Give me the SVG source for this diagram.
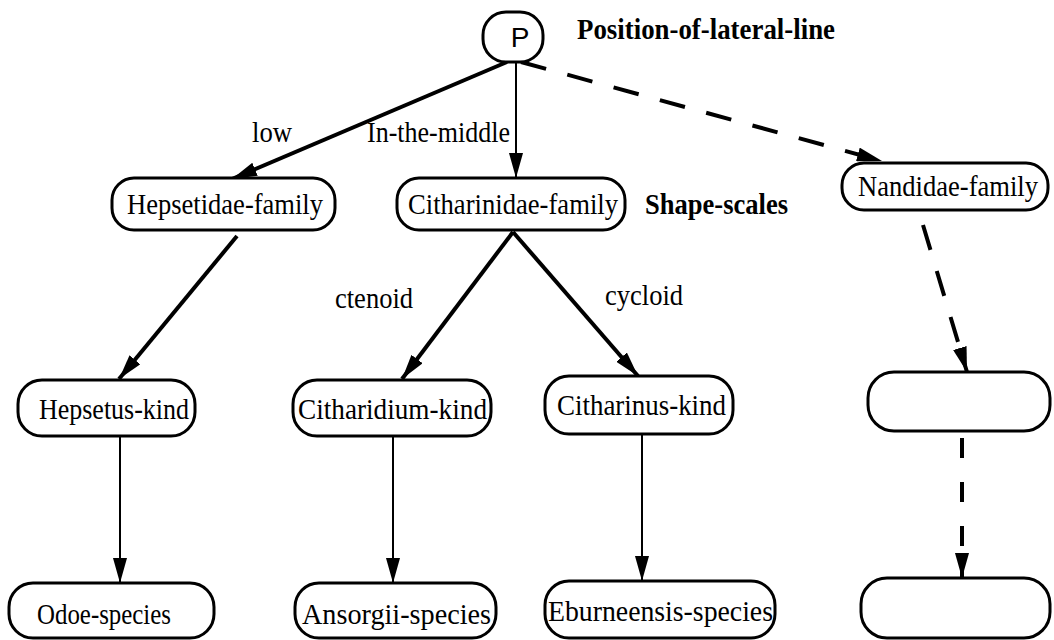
<svg xmlns="http://www.w3.org/2000/svg" width="1054" height="640" viewBox="0 0 1054 640">
<style>
.box{fill:#fff;stroke:#000;stroke-width:3}
.t{font-family:"Liberation Serif","Times New Roman",serif;font-size:29px;fill:#000}
.b{font-weight:bold}
.e{fill:none;stroke:#000}
.thick{stroke-width:4}
.thin{stroke-width:2}
.dash{stroke-dasharray:26 22}
</style>
<defs>
<marker id="ah" markerUnits="userSpaceOnUse" viewBox="0 0 25 14" markerWidth="25" markerHeight="14" refX="25" refY="7" orient="auto">
<path d="M0,0 L25,7 L0,14 z" fill="#000"/>
</marker>
</defs>
<rect width="1054" height="640" fill="#fff"/>
<g id="connectors">
<path class="e thick" d="M507,62 L232,179" marker-end="url(#ah)"/>
<path class="e thin" d="M516,62 L516,178" marker-end="url(#ah)"/>
<path class="e thick dash" d="M521,62 L882,161" marker-end="url(#ah)"/>
<path class="e thick" d="M513,232 L402,379" marker-end="url(#ah)"/>
<path class="e thick" d="M513,232 L638,376" marker-end="url(#ah)"/>
<path class="e thick" d="M237,236 L119,379" marker-end="url(#ah)"/>
<path class="e thin" d="M120,437 L120,583" marker-end="url(#ah)"/>
<path class="e thin" d="M393,437 L393,583" marker-end="url(#ah)"/>
<path class="e thin" d="M642,435 L642,581" marker-end="url(#ah)"/>
<path class="e thick dash" d="M923,225 L967,372" marker-end="url(#ah)"/>
<path class="e thick" style="stroke-dasharray:20 24" d="M962,438 L962,578" marker-end="url(#ah)"/>
</g>
<g id="labels">
<text class="t" x="252" y="142" textLength="40" lengthAdjust="spacingAndGlyphs">low</text>
<text class="t" x="367" y="142" textLength="143" lengthAdjust="spacingAndGlyphs">In-the-middle</text>
<text class="t" x="335" y="308" textLength="78" lengthAdjust="spacingAndGlyphs">ctenoid</text>
<text class="t" x="605" y="305" textLength="78" lengthAdjust="spacingAndGlyphs">cycloid</text>
<text class="t b" x="577" y="39" textLength="258" lengthAdjust="spacingAndGlyphs">Position-of-lateral-line</text>
<text class="t b" x="645" y="214" textLength="143" lengthAdjust="spacingAndGlyphs">Shape-scales</text>
</g>
<g id="node-P">
<rect class="box" x="483" y="12" width="60" height="50" rx="23"/>
<text x="520" y="47" text-anchor="middle" style="font-family:'Liberation Sans',Arial,sans-serif;font-size:28px">P</text>
</g>
<g id="node-hepsetidae">
<rect class="box" x="112" y="178" width="223" height="52" rx="22"/>
<text class="t" x="127" y="214" textLength="196" lengthAdjust="spacingAndGlyphs">Hepsetidae-family</text>
</g>
<g id="node-citharinidae">
<rect class="box" x="397" y="178" width="228" height="52" rx="22"/>
<text class="t" x="408" y="214" textLength="210" lengthAdjust="spacingAndGlyphs">Citharinidae-family</text>
</g>
<g id="node-nandidae">
<rect class="box" x="842" y="163" width="206" height="47" rx="22"/>
<text class="t" x="858" y="196" textLength="180" lengthAdjust="spacingAndGlyphs">Nandidae-family</text>
</g>
<g id="node-hepsetus">
<rect class="box" x="18" y="380" width="177" height="56" rx="24"/>
<text class="t" x="39" y="419" textLength="150" lengthAdjust="spacingAndGlyphs">Hepsetus-kind</text>
</g>
<g id="node-citharidium">
<rect class="box" x="293" y="380" width="198" height="56" rx="24"/>
<text class="t" x="298" y="419" textLength="189" lengthAdjust="spacingAndGlyphs">Citharidium-kind</text>
</g>
<g id="node-citharinus">
<rect class="box" x="545" y="376" width="188" height="58" rx="24"/>
<text class="t" x="557" y="415" textLength="169" lengthAdjust="spacingAndGlyphs">Citharinus-kind</text>
</g>
<g id="node-empty1">
<rect class="box" x="868" y="372" width="182" height="59" rx="26"/>
</g>
<g id="node-odoe">
<rect class="box" x="9" y="583" width="205" height="55" rx="24"/>
<text class="t" x="37" y="624" textLength="134" lengthAdjust="spacingAndGlyphs">Odoe-species</text>
</g>
<g id="node-ansorgii">
<rect class="box" x="295" y="583" width="201" height="55" rx="24"/>
<text class="t" x="302" y="624" textLength="189" lengthAdjust="spacingAndGlyphs">Ansorgii-species</text>
</g>
<g id="node-eburneensis">
<rect class="box" x="545" y="581" width="230" height="57" rx="24"/>
<text class="t" x="548" y="621" textLength="225" lengthAdjust="spacingAndGlyphs">Eburneensis-species</text>
</g>
<g id="node-empty2">
<rect class="box" x="861" y="578" width="189" height="60" rx="26"/>
</g>
</svg>
